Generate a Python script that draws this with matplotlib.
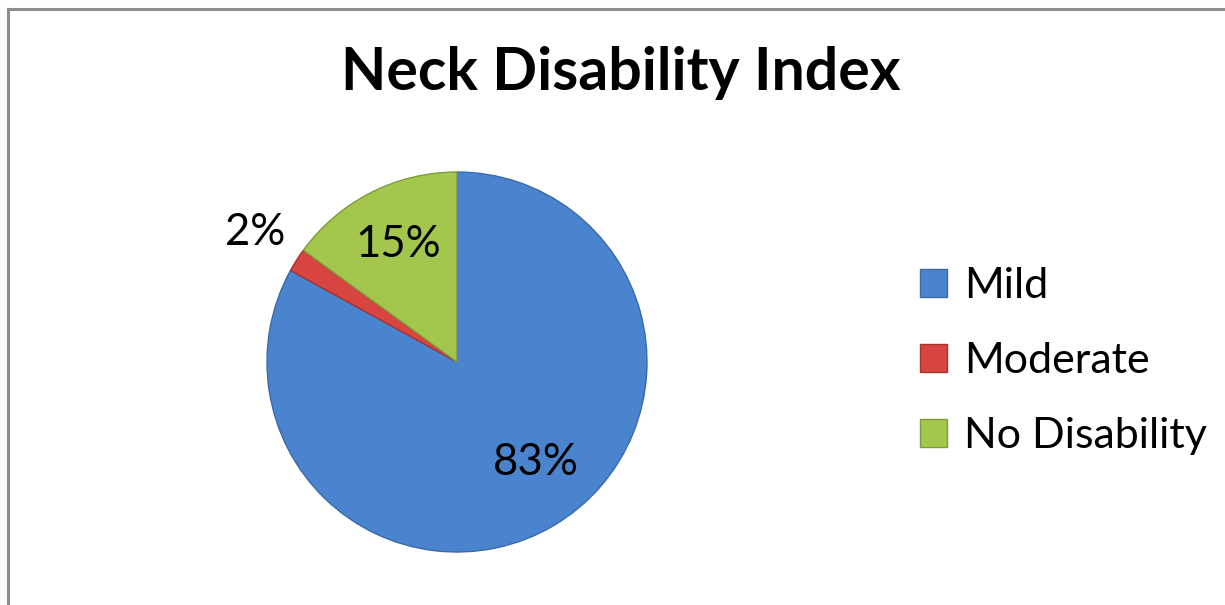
import matplotlib
matplotlib.use("Agg")
import matplotlib.pyplot as plt
import numpy as np

plt.rcParams['font.family'] = ['Lato', 'DejaVu Sans']

# data
labels = ['Mild', 'Moderate', 'No Disability']
values = [83, 2, 15]
colors = ['#4a84cf', '#d8443f', '#a3c64d']
edges = ['#3a6aa8', '#a83430', '#7f9c3a']

fig = plt.figure(figsize=(12.25, 6.05), dpi=100)
W, H = 1225, 605

# border of the chart area (left + top visible, rest cropped)
fig.add_artist(plt.Line2D([8 / W, 8 / W], [0, 1 - 9 / H], color='#8c8c8c', lw=2.2))
fig.add_artist(plt.Line2D([8 / W, 1], [1 - 9 / H, 1 - 9 / H], color='#8c8c8c', lw=2.2))

fig.text(621 / W, 1 - 73 / H, 'Neck Disability Index', ha='center', va='center',
         fontsize=42.5, fontweight='bold')

# pie centre (457, 362) px, radius 190 px
cx, cy, r = 457, 362, 190
ax = fig.add_axes([(cx - r) / W, (H - cy - r) / H, 2 * r / W, 2 * r / H])
wedges, _ = ax.pie(values, colors=colors, startangle=90, counterclock=False,
                   radius=1, wedgeprops=dict(linewidth=1))
for w, ec in zip(wedges, edges):
    w.set_edgecolor(ec)
ax.set_xlim(-1, 1)
ax.set_ylim(-1, 1)
ax.set_aspect('equal')
ax.axis('off')

# label spots (distance, angle in degrees)
spots = [(0.67, -52), (1.26, 147.3), (0.69, 116.8)]
for v, (d, a) in zip(values, spots):
    t = np.radians(a)
    ax.text(d * np.cos(t), d * np.sin(t), '%d%%' % v, ha='center', va='center',
            fontsize=31.5, clip_on=False)

leg = fig.legend(wedges, labels, loc='center left',
                 bbox_to_anchor=(920 / W, 1 - 361 / H), frameon=False,
                 fontsize=31, handlelength=0.62, handleheight=0.62,
                 handletextpad=0.4, labelspacing=0.86, borderpad=0,
                 borderaxespad=0)

fig.savefig('out.png', dpi=100)
